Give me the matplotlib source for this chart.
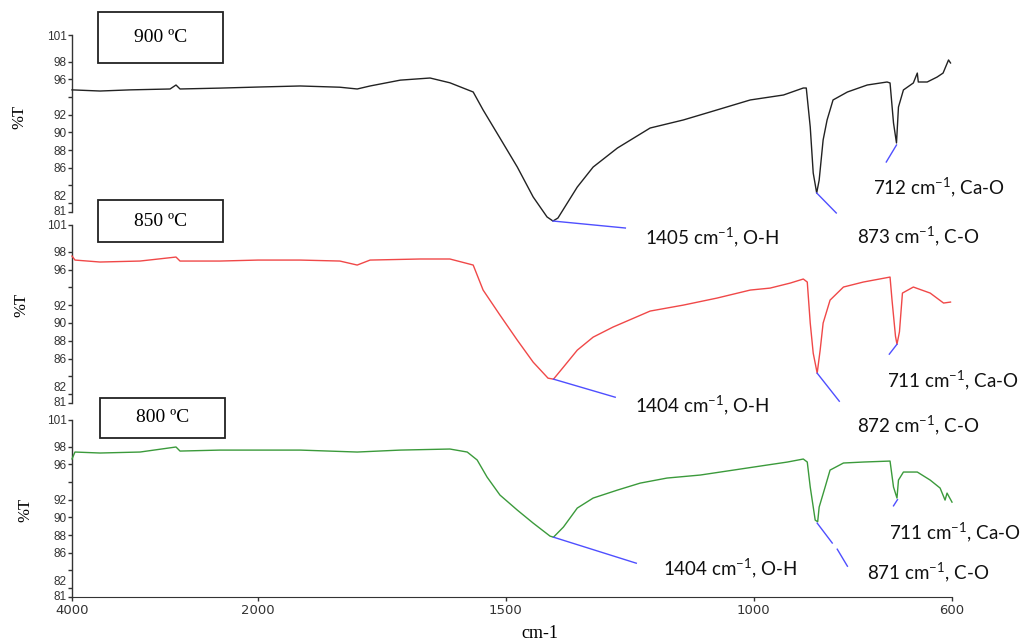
import numpy as np
import matplotlib
matplotlib.use("Agg")
import matplotlib.pyplot as plt
from matplotlib.patches import Rectangle

# ---------------- data ----------------
wn900 = [4000, 3699, 3376, 2946, 2882, 2839, 2409, 2000, 1915, 1835, 1800, 1774, 1713, 1653, 1613, 1566, 1546,
         1512, 1477, 1445, 1417, 1405, 1395, 1356, 1324, 1275, 1209, 1142, 1088, 1041, 1007, 940, 900, 894, 886,
         880, 873, 868, 860, 852, 840, 811, 771, 731, 725, 718, 712, 708, 698, 678, 670, 668, 650, 630, 618, 607, 603]
t900 = [94.8, 94.67, 94.8, 94.9, 95.35, 94.9, 95.0, 95.12, 95.24, 95.1, 94.9, 95.24, 95.9, 96.14, 95.6, 94.56, 92.53,
        89.36, 86.08, 82.7, 80.44, 79.98, 80.32, 83.82, 86.08, 88.23, 90.49, 91.4, 92.3, 93.09, 93.66, 94.22, 95.01,
        95.01, 90.6, 85.41, 83.15, 84.6, 89.14, 91.4, 93.66, 94.56, 95.35, 95.69, 95.58, 91.06, 88.8, 92.86, 94.79,
        95.58, 96.7, 95.69, 95.69, 96.25, 96.7, 98.18, 97.84]

wn850 = [4000, 3968, 3699, 3269, 2882, 2839, 2409, 2000, 1915, 1835, 1800, 1774, 1673, 1613, 1566, 1546, 1512, 1477,
         1445, 1415, 1404, 1384, 1356, 1324, 1284, 1209, 1142, 1074, 1007, 967, 926, 900, 892, 886, 880, 872, 866,
         860, 846, 819, 779, 725, 721, 714, 711, 706, 700, 678, 644, 617, 603]
t850 = [97.51, 97.06, 96.84, 96.95, 97.4, 96.95, 96.95, 97.06, 97.06, 96.95, 96.5, 97.06, 97.18, 97.18, 96.5, 93.69,
        90.88, 88.06, 85.59, 83.79, 83.68, 85.03, 86.94, 88.4, 89.53, 91.33, 92.0, 92.79, 93.69, 93.91, 94.48, 94.93,
        94.59, 89.98, 86.6, 84.35, 86.94, 89.98, 92.56, 94.03, 94.59, 95.15, 92.56, 88.5, 87.6, 89.0, 93.35, 94.03,
        93.35, 92.23, 92.34]

wn800 = [4000, 3968, 3699, 3269, 2882, 2839, 2409, 2000, 1915, 1800, 1713, 1613, 1578, 1558, 1538, 1512, 1477, 1445,
         1411, 1404, 1384, 1356, 1324, 1275, 1229, 1175, 1108, 1041, 973, 932, 900, 892, 886, 876, 871, 868, 856, 846,
         819, 779, 725, 718, 711, 708, 698, 670, 644, 624, 614, 610, 600]
t800 = [96.6, 97.38, 97.27, 97.38, 97.95, 97.49, 97.6, 97.6, 97.6, 97.38, 97.6, 97.72, 97.38, 96.48, 94.55, 92.52,
        90.82, 89.35, 87.88, 87.76, 88.9, 91.05, 92.18, 93.08, 93.87, 94.44, 94.78, 95.34, 95.91, 96.25, 96.59, 96.25,
        93.42, 89.69, 89.5, 91.16, 93.42, 95.34, 96.14, 96.25, 96.36, 93.42, 92.18, 94.21, 95.12, 95.12, 94.21, 93.31,
        91.95, 92.74, 91.72]

temps = ["900 ºC", "850 ºC", "800 ºC"]
xticks = [4000, 2000, 1500, 1000, 600]
yticks = [81, 82, 84, 86, 88, 90, 92, 94, 96, 98, 101]
ytick_labels = ["81", "82", "", "86", "88", "90", "92", "", "96", "98", "101"]

# ---------------- style ----------------
plt.rcParams['mathtext.fontset'] = 'custom'
plt.rcParams['mathtext.rm'] = 'Lato'
plt.rcParams['mathtext.it'] = 'Lato'
plt.rcParams['mathtext.default'] = 'rm'

W, H = 1024, 642
fig = plt.figure(figsize=(W / 100, H / 100), dpi=100)

K = 0.1877  # compression of the region above 2000 cm-1


def fwd(w):
    w = np.asarray(w, dtype=float)
    return np.where(w > 2000, 2000 + (w - 2000) * K, w)


def inv(u):
    u = np.asarray(u, dtype=float)
    return np.where(u > 2000, 2000 + (u - 2000) / K, u)


def fx(px):
    return px / W


def fy(py):
    return 1 - py / H


panels = [
    (35, 212, wn900, t900, '#222222'),
    (225, 403, wn850, t850, '#f04848'),
    (420, 597, wn800, t800, '#3b9a3b'),
]

axes = []
for i, (top, bot, wn, tt, col) in enumerate(panels):
    ax = fig.add_axes([fx(72), fy(bot), fx(952) - fx(72), (bot - top) / H])
    ax.set_xscale('function', functions=(fwd, inv))
    ax.plot(wn, tt, color=col, lw=1.0, clip_on=False, zorder=3)
    ax.set_xlim(4000, 600)
    ax.set_ylim(81, 101)
    ax.patch.set_alpha(0)
    for s in ['top', 'right']:
        ax.spines[s].set_visible(False)
    ax.spines['left'].set_color('#333333')
    ax.spines['left'].set_linewidth(1.0)
    ax.set_yticks(yticks)
    labs = ax.set_yticklabels(ytick_labels, family='Liberation Sans', fontsize=8.5, color='#333333')
    labs[1].set_va('bottom')
    labs[0].set_va('center')
    ax.tick_params(axis='y', direction='out', length=3, width=1, color='#333333', pad=1)
    ax.minorticks_off()
    if i < 2:
        ax.spines['bottom'].set_visible(False)
        ax.set_xticks([])
    else:
        ax.spines['bottom'].set_color('#333333')
        ax.set_xticks(xticks)
        ax.set_xticklabels([str(v) for v in xticks], family='DejaVu Sans', fontsize=9.5, color='#333333')
        ax.tick_params(axis='x', direction='out', length=3, width=1, color='#333333', pad=2)
    axes.append(ax)

# y labels
for (xp, yp) in [(19, 117), (21, 305), (25, 510)]:
    fig.text(fx(xp), fy(yp), "%T", rotation=90, family='Liberation Serif', fontsize=12,
             ha='center', va='center')

fig.text(fx(540), fy(633), "cm-1", family='Liberation Serif', fontsize=13, ha='center', va='center')

# temperature boxes
for (x0, y0, x1, y1), lab in zip([(98, 12, 223, 63), (98, 200, 223, 242), (100, 398, 225, 438)], temps):
    fig.patches.append(Rectangle((fx(x0), fy(y1)), fx(x1) - fx(x0), fy(y0) - fy(y1),
                                 transform=fig.transFigure, facecolor='white', edgecolor='#222222',
                                 lw=1.3, zorder=5))
    fig.text(fx((x0 + x1) / 2), fy((y0 + y1) / 2), lab, family='Liberation Serif', fontsize=14,
             ha='center', va='center', zorder=6)

# annotation lines (data coordinates of each panel)
blue = '#4f4fff'
ann_lines = [
    (0, [(1405, 79.98), (1259, 79.19)]),
    (0, [(873, 83.15), (833.5, 80.89)]),
    (0, [(712, 88.57), (732.6, 86.65)]),
    (1, [(1404, 83.68), (1279.5, 81.65)]),
    (1, [(872, 84.35), (827.4, 81.2)]),
    (1, [(711, 87.6), (726.5, 86.49)]),
    (2, [(1404, 87.76), (1237, 84.82)]),
    (2, [(872, 89.35), (841.6, 87.1)]),
    (2, [(831.5, 86.4), (811, 84.48)]),
    (2, [(710, 92.0), (718, 91.3)]),
]
for i, pts in ann_lines:
    xs = [p[0] for p in pts]
    ys = [p[1] for p in pts]
    axes[i].plot(xs, ys, color=blue, lw=1.0, clip_on=False, zorder=4)

ann_text = [
    ("1405 cm$^{-1}$, O-H", 645, 237),
    ("873 cm$^{-1}$, C-O", 857, 236),
    ("712 cm$^{-1}$, Ca-O", 873, 187),
    ("1404 cm$^{-1}$, O-H", 635, 405),
    ("872 cm$^{-1}$, C-O", 857, 425),
    ("711 cm$^{-1}$, Ca-O", 887, 380),
    ("1404 cm$^{-1}$, O-H", 663, 568),
    ("871 cm$^{-1}$, C-O", 867, 572),
    ("711 cm$^{-1}$, Ca-O", 889, 532),
]
for s, xp, yp in ann_text:
    fig.text(fx(xp), fy(yp + 7), s, family='Lato', fontsize=13.5, ha='left', va='baseline', color='#111111')

fig.savefig("out.png", dpi=100)
